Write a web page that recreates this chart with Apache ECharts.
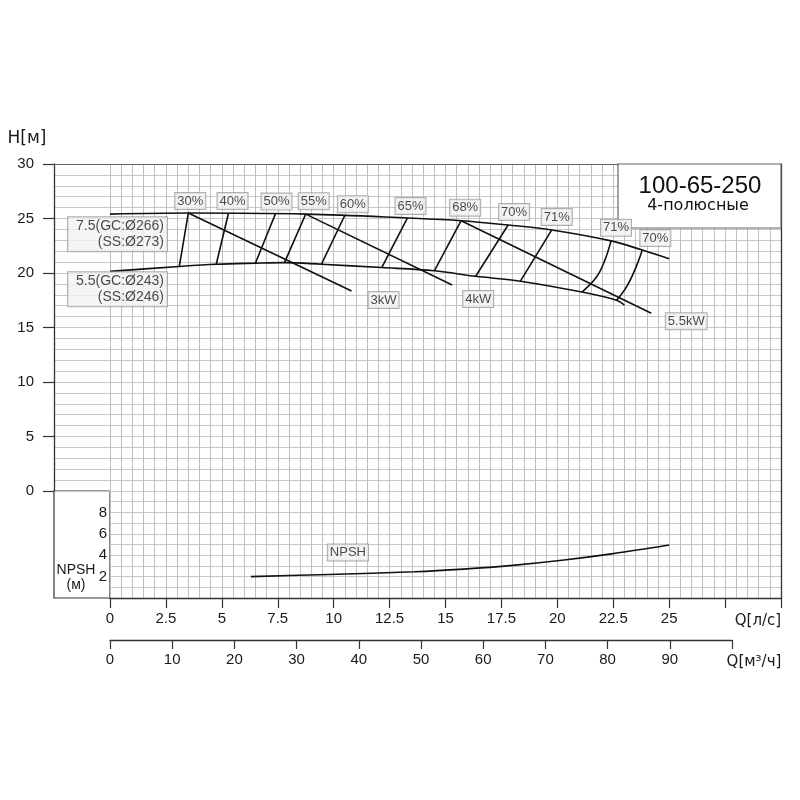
<!DOCTYPE html>
<html><head><meta charset="utf-8">
<script src="https://cdn.jsdelivr.net/npm/echarts@6/dist/echarts.min.js"></script>
<style>html,body{margin:0;padding:0;background:#fff}#c{width:800px;height:800px}</style>
</head><body><div id="c"></div>
<script>
// ---- data ----
const qTicks = [0, 2.5, 5, 7.5, 10, 12.5, 15, 17.5, 20, 22.5, 25];
const m3hTicks = [0, 10, 20, 30, 40, 50, 60, 70, 80, 90];
const hTicks = [0, 5, 10, 15, 20, 25, 30];
const npshTicks = [2, 4, 6, 8];

const qTop = [0, 3.5, 8.8, 13.3, 15.7, 17.8, 19.75, 22.4, 23.8, 25];
const hTop = [25.4, 25.5, 25.4, 25.05, 24.8, 24.4, 23.95, 22.95, 22.1, 21.3];
const topLabel = '7.5(GC:Ø266)\n(SS:Ø273)';

const qBot = [0, 3.1, 4.75, 6.5, 7.8, 9.45, 12.15, 14.5, 16.35, 18.35, 21.1, 22.65, 23.0];
const hBot = [20.15, 20.6, 20.8, 20.9, 20.95, 20.8, 20.5, 20.2, 19.7, 19.25, 18.25, 17.5, 17.05];
const botLabel = '5.5(GC:Ø243)\n(SS:Ø246)';

const effLabels = ['30%', '40%', '50%', '55%', '60%', '65%', '68%', '70%', '71%', '71%', '70%'];
const effTopQ = [3.5, 5.3, 7.4, 8.75, 10.5, 13.3, 15.7, 17.8, 19.75, 22.4, 23.8];
const effTopH = [25.5, 25.5, 25.45, 25.4, 25.3, 25.05, 24.8, 24.4, 23.95, 22.95, 22.1];
const effMidQ = [[], [], [], [], [], [], [], [], [], [22.13, 21.76], [23.5, 23.1]];
const effMidH = [[], [], [], [], [], [], [], [], [], [21.2, 19.65], [20.45, 18.75]];
const effBotQ = [3.1, 4.75, 6.5, 7.8, 9.45, 12.15, 14.5, 16.35, 18.35, 21.1, 22.65];
const effBotH = [20.6, 20.8, 20.9, 20.95, 20.8, 20.5, 20.2, 19.7, 19.25, 18.25, 17.5];

const powerLabels = ['3kW', '4kW', '5.5kW'];
const powerStartQ = [3.5, 8.75, 15.7];
const powerStartH = [25.5, 25.4, 24.8];
const powerEndQ = [10.8, 15.3, 24.2];
const powerEndH = [18.35, 18.9, 16.3];

const npshQ = [6.3, 9.8, 13.6, 15.8, 18.0, 20.3, 22.5, 25];
const npshV = [2.0, 2.2, 2.45, 2.7, 3.05, 3.55, 4.15, 4.95];

// ---- styling ----
const FONT = '"Liberation Sans", Arial, sans-serif';
const TXT = '#1a1a1a';
const AX = '#333';
const GH = '#c8c8c8';
const GV = '#bfbfbf';
const CURVE = '#111';
const effOffsets = [[2,-12],[4,-12],[1,-12],[8,-13],[8,-11],[3,-12],[4,-13],[6,-13],[5,-13],[5,-13],[13,-12]];
const powerOffsets = [[32,9],[26,14],[35,8]];

const boxLabel = {
  show: true, position: 'inside', color: TXT, fontFamily: FONT, fontSize: 13,
  backgroundColor: '#f3f3f3', borderColor: '#9a9a9a', borderWidth: 1, padding: [2, 2, 1, 2]
};

const chart = echarts.init(document.getElementById('c'), null, {renderer: 'canvas'});

const series = [];
function lineSeries(pts, opt) {
  return Object.assign({
    type: 'line', data: pts, symbol: 'none', silent: true, animation: false,
    lineStyle: {color: CURVE, width: 1.6}, z: 3
  }, opt || {});
}
series.push(lineSeries(qTop.map((q, i) => [q, hTop[i]]), {smooth: 0.35, xAxisIndex: 0, yAxisIndex: 0}));
series.push(lineSeries(qBot.map((q, i) => [q, hBot[i]]), {smooth: 0.35, xAxisIndex: 0, yAxisIndex: 0}));
effLabels.forEach((t, i) => {
  const pts = [[effTopQ[i], effTopH[i]]];
  effMidQ[i].forEach((q, k) => pts.push([q, effMidH[i][k]]));
  pts.push([effBotQ[i], effBotH[i]]);
  series.push(lineSeries(pts, {smooth: effMidQ[i].length ? 0.4 : false, xAxisIndex: 0, yAxisIndex: 0}));
});
powerLabels.forEach((t, i) => {
  series.push(lineSeries([[powerStartQ[i], powerStartH[i]], [powerEndQ[i], powerEndH[i]]], {xAxisIndex: 0, yAxisIndex: 0}));
});
series.push(lineSeries(npshQ.map((q, i) => [q, npshV[i]]), {smooth: 0.35, xAxisIndex: 3, yAxisIndex: 3}));

// labels
const labelItems = [];
effLabels.forEach((t, i) => labelItems.push({value: [effTopQ[i], effTopH[i]], label: {formatter: t, offset: effOffsets[i]}}));
powerLabels.forEach((t, i) => labelItems.push({value: [powerEndQ[i], powerEndH[i]], label: {formatter: t, offset: powerOffsets[i]}}));
labelItems.push({value: [qTop[0], hTop[0]], label: {formatter: topLabel, align: 'right', verticalAlign: 'middle', offset: [57, 20], fontSize: 14, lineHeight: 16, padding: [1, 3, 1, 8]}});
labelItems.push({value: [qBot[0], hBot[0]], label: {formatter: botLabel, align: 'right', verticalAlign: 'middle', offset: [57, 18], fontSize: 14, lineHeight: 16, padding: [1, 3, 1, 8]}});
series.push({
  type: 'scatter', xAxisIndex: 0, yAxisIndex: 0, data: labelItems, symbolSize: 1, silent: true,
  itemStyle: {color: 'rgba(0,0,0,0)'}, label: boxLabel, z: 10, animation: false
});
series.push({
  type: 'scatter', xAxisIndex: 3, yAxisIndex: 3, data: [{value: [npshQ[0], npshV[0]], label: {formatter: 'NPSH', offset: [97, -24]}}],
  symbolSize: 1, silent: true, itemStyle: {color: 'rgba(0,0,0,0)'}, label: boxLabel, z: 10, animation: false
});

const none = {show: false};
const gridBase = {outerBoundsMode: 'none', containLabel: false};
const option = {
  backgroundColor: '#fff',
  animation: false,
  grid: [
    Object.assign({left: 110, top: 164, width: 671, height: 327}, gridBase),
    Object.assign({left: 54, top: 164, width: 56, height: 327}, gridBase),
    Object.assign({left: 54, top: 491, width: 56, height: 107, show: true, borderColor: AX, borderWidth: 1.2, backgroundColor: '#fff'}, gridBase),
    Object.assign({left: 110, top: 639, width: 622, height: 1}, gridBase),
    Object.assign({left: 110, top: 491, width: 671, height: 107}, gridBase)
  ],
  xAxis: [
    {gridIndex: 0, type: 'value', min: 0, max: 30, interval: 2.5, axisLine: none, axisTick: none, axisLabel: none,
     splitLine: {show: true, lineStyle: {color: GV, width: 1}}, minorTick: {show: false, splitNumber: 5},
     minorSplitLine: {show: true, lineStyle: {color: GV, width: 1}}},
    {gridIndex: 0, type: 'value', position: 'top', min: 0, max: 30, axisLine: {show: true, onZero: false, lineStyle: {color: '#666', width: 1.2}},
     axisTick: none, axisLabel: none, splitLine: none},
    {gridIndex: 1, type: 'value', position: 'top', min: 0, max: 1, axisLine: {show: true, onZero: false, lineStyle: {color: '#666', width: 1.2}},
     axisTick: none, axisLabel: none, splitLine: none},
    {gridIndex: 4, type: 'value', min: 0, max: 30, interval: 2.5,
     axisLine: {show: true, onZero: false, lineStyle: {color: AX, width: 1.3}},
     axisTick: {show: true, length: 10, lineStyle: {color: AX, width: 1.2}},
     axisLabel: {show: true, margin: 13, color: TXT, fontFamily: FONT, fontSize: 15,
       formatter: v => (qTicks.indexOf(v) >= 0 ? String(v) : '')},
     splitLine: {show: true, lineStyle: {color: GV, width: 1}}, minorTick: {show: false, splitNumber: 5},
     minorSplitLine: {show: true, lineStyle: {color: GV, width: 1}}},
    {gridIndex: 2, type: 'value', min: 0, max: 1, show: false},
    {gridIndex: 3, type: 'value', min: 0, max: 100, interval: 10,
     axisLine: {show: true, onZero: false, lineStyle: {color: AX, width: 1.3}},
     axisTick: {show: true, length: 9, lineStyle: {color: AX, width: 1.2}},
     axisLabel: {show: true, margin: 12, color: TXT, fontFamily: FONT, fontSize: 15,
       formatter: v => (m3hTicks.indexOf(v) >= 0 ? String(v) : '')},
     splitLine: none}
  ],
  yAxis: [
    {gridIndex: 0, type: 'value', min: 0, max: 30, interval: 5, axisLine: none, axisTick: none, axisLabel: none,
     splitLine: {show: true, lineStyle: {color: GH, width: 1}}, minorTick: {show: false, splitNumber: 5},
     minorSplitLine: {show: true, lineStyle: {color: GH, width: 1}}},
    {gridIndex: 0, type: 'value', position: 'right', min: 0, max: 30, axisLine: {show: true, onZero: false, lineStyle: {color: AX, width: 1.3}},
     axisTick: none, axisLabel: none, splitLine: none},
    {gridIndex: 1, type: 'value', min: 0, max: 30, interval: 5,
     axisLine: {show: true, onZero: false, lineStyle: {color: AX, width: 1.3}},
     axisTick: {show: true, length: 11, lineStyle: {color: AX, width: 1.2}},
     axisLabel: {show: true, margin: 20, color: TXT, fontFamily: FONT, fontSize: 15,
       formatter: v => (hTicks.indexOf(v) >= 0 ? String(v) : '')},
     splitLine: {show: true, lineStyle: {color: GH, width: 1}}, minorTick: {show: false, splitNumber: 5},
     minorSplitLine: {show: true, lineStyle: {color: GH, width: 1}}},
    {gridIndex: 4, type: 'value', min: 0, max: 10, interval: 1, axisLine: none, axisTick: none, axisLabel: none,
     splitLine: {show: true, lineStyle: {color: GH, width: 1}}},
    {gridIndex: 4, type: 'value', position: 'right', min: 0, max: 10, axisLine: {show: true, onZero: false, lineStyle: {color: AX, width: 1.3}},
     axisTick: none, axisLabel: none, splitLine: none},
    {gridIndex: 2, type: 'value', position: 'right', min: 0, max: 10, interval: 2, axisLine: none, axisTick: none,
     axisLabel: {show: true, inside: true, margin: 3, color: TXT, fontFamily: FONT, fontSize: 15,
       formatter: v => (npshTicks.indexOf(v) >= 0 ? String(v) : '')},
     splitLine: none},
    {gridIndex: 3, type: 'value', min: 0, max: 1, show: false}
  ],
  graphic: [
    {type: 'rect', z: 1, shape: {x: 618, y: 164, width: 163, height: 64}, style: {fill: '#fff', stroke: '#666', lineWidth: 1.2}},
    {type: 'text', z: 1, x: 700, y: 186, style: {text: '100-65-250', font: '24px "Liberation Sans", Arial, sans-serif', fill: '#111', textAlign: 'center', textVerticalAlign: 'middle'}},
    {type: 'text', z: 1, x: 698, y: 206, style: {text: '4-полюсные', font: '16px "DejaVu Sans", sans-serif', fill: '#111', textAlign: 'center', textVerticalAlign: 'middle'}},
    {type: 'text', z: 1, x: 27, y: 139, style: {text: 'H[м]', font: '17px "DejaVu Sans", sans-serif', fill: TXT, textAlign: 'center', textVerticalAlign: 'middle'}},
    {type: 'text', z: 1, x: 76, y: 570, style: {text: 'NPSH', font: '14px "Liberation Sans", Arial, sans-serif', fill: TXT, textAlign: 'center', textVerticalAlign: 'middle'}},
    {type: 'text', z: 1, x: 76, y: 585, style: {text: '(м)', font: '14px "Liberation Sans", Arial, sans-serif', fill: TXT, textAlign: 'center', textVerticalAlign: 'middle'}},
    {type: 'text', z: 1, x: 758, y: 621, style: {text: 'Q[л/с]', font: '15px "DejaVu Sans", sans-serif', fill: TXT, textAlign: 'center', textVerticalAlign: 'middle'}},
    {type: 'text', z: 1, x: 754, y: 662, style: {text: 'Q[м³/ч]', font: '15px "DejaVu Sans", sans-serif', fill: TXT, textAlign: 'center', textVerticalAlign: 'middle'}}
  ],
  series: series
};
chart.setOption(option);
</script>
</body></html>
